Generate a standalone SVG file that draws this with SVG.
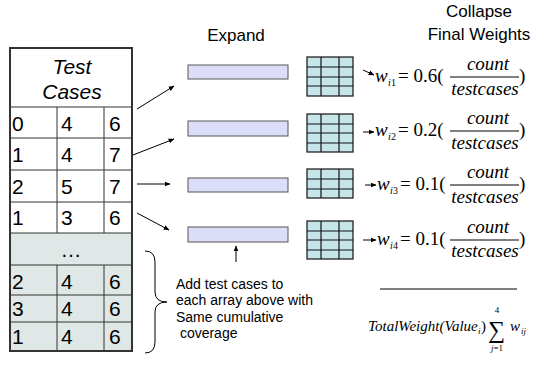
<svg xmlns="http://www.w3.org/2000/svg" width="533" height="366" viewBox="0 0 533 366">
  <style>
    .sans { font-family: "Liberation Sans", Arial, sans-serif; fill: #000; }
    .cell { font-size: 21px; }
    .head { font-size: 17px; }
    .note { font-size: 14px; }
    .math { font-family: "Liberation Serif", "Times New Roman", serif; fill: #000; }
    .it { font-style: italic; }
    .bar { fill: #dcdef9; stroke: #555; stroke-width: 1; }
    .grid rect { fill: #c6e5e8; stroke: #111; stroke-width: 1.2; }
    .grid line { stroke: #111; stroke-width: 1.2; }
    .tline { stroke: #333; stroke-width: 1; }
    .conn { stroke: #000; stroke-width: 1; fill: none; }
  </style>
  <defs>
    <marker id="ah" viewBox="0 0 10 10" refX="9" refY="5" markerWidth="6" markerHeight="6" orient="auto" markerUnits="userSpaceOnUse">
      <path d="M0,1 L10,5 L0,9 z" fill="#000"/>
    </marker>
  </defs>

  <rect width="533" height="366" fill="#fff"/>

  <!-- test case table -->
  <g id="test-cases">
    <rect x="10" y="233" width="122" height="118" fill="#dfe8e6"/>
    <rect x="10" y="48" width="122" height="303" fill="none" stroke="#333" stroke-width="2"/>
    <line class="tline" x1="10" y1="107" x2="132" y2="107"/>
    <line class="tline" x1="10" y1="138" x2="132" y2="138"/>
    <line class="tline" x1="10" y1="170" x2="132" y2="170"/>
    <line class="tline" x1="10" y1="202" x2="132" y2="202"/>
    <line class="tline" x1="10" y1="233" x2="132" y2="233"/>
    <line class="tline" x1="10" y1="265" x2="132" y2="265"/>
    <line class="tline" x1="10" y1="295" x2="132" y2="295"/>
    <line class="tline" x1="10" y1="322" x2="132" y2="322"/>
    <line class="tline" x1="57" y1="107" x2="57" y2="233"/>
    <line class="tline" x1="104" y1="107" x2="104" y2="233"/>
    <line class="tline" x1="57" y1="265" x2="57" y2="351"/>
    <line class="tline" x1="104" y1="265" x2="104" y2="351"/>
    <text class="sans cell" x="72" y="74" text-anchor="middle" font-style="italic">Test</text>
    <text class="sans cell" x="72" y="99" text-anchor="middle" font-style="italic">Cases</text>
    <g class="sans cell">
      <text x="12" y="131">0</text><text x="61" y="131">4</text><text x="109" y="131">6</text>
      <text x="12" y="162">1</text><text x="61" y="162">4</text><text x="109" y="162">7</text>
      <text x="12" y="194">2</text><text x="61" y="194">5</text><text x="109" y="194">7</text>
      <text x="12" y="225">1</text><text x="61" y="225">3</text><text x="109" y="225">6</text>
      <text x="71" y="257" text-anchor="middle">…</text>
      <text x="12" y="289">2</text><text x="61" y="289">4</text><text x="109" y="289">6</text>
      <text x="12" y="316">3</text><text x="61" y="316">4</text><text x="109" y="316">6</text>
      <text x="12" y="344">1</text><text x="61" y="344">4</text><text x="109" y="344">6</text>
    </g>
  </g>

  <!-- headers -->
  <g id="expand-header">
    <text class="sans head" x="236" y="41" text-anchor="middle">Expand</text>
  </g>
  <g id="collapse-header">
    <text class="sans head" x="479" y="17" text-anchor="middle">Collapse</text>
    <text class="sans head" x="479" y="40" text-anchor="middle" font-size="16">Final Weights</text>
  </g>

  <!-- expanded arrays -->
  <g id="array-1"><rect class="bar" x="188" y="65" width="100" height="14"/></g>
  <g id="array-2"><rect class="bar" x="188" y="121" width="100" height="15"/></g>
  <g id="array-3"><rect class="bar" x="188" y="178" width="100" height="14"/></g>
  <g id="array-4"><rect class="bar" x="188" y="227" width="100" height="15"/></g>

  <!-- collapsed grids -->
  <g id="grid-1" class="grid">
    <rect x="307" y="57" width="46" height="39"/>
    <line x1="321" y1="57" x2="321" y2="96"/><line x1="339" y1="57" x2="339" y2="96"/>
    <line x1="307" y1="67" x2="353" y2="67"/><line x1="307" y1="77" x2="353" y2="77"/><line x1="307" y1="86" x2="353" y2="86"/>
  </g>
  <g id="grid-2" class="grid">
    <rect x="307" y="114" width="46" height="38"/>
    <line x1="321" y1="114" x2="321" y2="152"/><line x1="339" y1="114" x2="339" y2="152"/>
    <line x1="307" y1="124" x2="353" y2="124"/><line x1="307" y1="133" x2="353" y2="133"/><line x1="307" y1="143" x2="353" y2="143"/>
  </g>
  <g id="grid-3" class="grid">
    <rect x="307" y="169" width="46" height="29"/>
    <line x1="321" y1="169" x2="321" y2="198"/><line x1="339" y1="169" x2="339" y2="198"/>
    <line x1="307" y1="179" x2="353" y2="179"/><line x1="307" y1="189" x2="353" y2="189"/>
  </g>
  <g id="grid-4" class="grid">
    <rect x="307" y="221" width="46" height="38"/>
    <line x1="321" y1="221" x2="321" y2="259"/><line x1="339" y1="221" x2="339" y2="259"/>
    <line x1="307" y1="231" x2="353" y2="231"/><line x1="307" y1="240" x2="353" y2="240"/><line x1="307" y1="250" x2="353" y2="250"/>
  </g>

  <!-- weight equations -->
  <g id="weight-1" class="math">
    <text x="375" y="82" font-size="19" class="it">w</text>
    <text x="388" y="86" font-size="10" class="it">i</text><text x="391" y="86" font-size="10">1</text>
    <text x="398" y="82" font-size="19">= 0.6(</text>
    <text x="488" y="70" font-size="19" class="it" text-anchor="middle">count</text>
    <line x1="450" y1="77" x2="519" y2="77" stroke="#000" stroke-width="1"/>
    <text x="485" y="95" font-size="19" class="it" text-anchor="middle">testcases</text>
    <text x="519" y="82" font-size="19">)</text>
  </g>
  <g id="weight-2" class="math">
    <text x="375" y="136" font-size="19" class="it">w</text>
    <text x="388" y="140" font-size="10" class="it">i</text><text x="391" y="140" font-size="10">2</text>
    <text x="398" y="136" font-size="19">= 0.2(</text>
    <text x="488" y="124" font-size="19" class="it" text-anchor="middle">count</text>
    <line x1="450" y1="131" x2="519" y2="131" stroke="#000" stroke-width="1"/>
    <text x="485" y="149" font-size="19" class="it" text-anchor="middle">testcases</text>
    <text x="519" y="136" font-size="19">)</text>
  </g>
  <g id="weight-3" class="math">
    <text x="377" y="190" font-size="19" class="it">w</text>
    <text x="390" y="194" font-size="10" class="it">i</text><text x="393" y="194" font-size="10">3</text>
    <text x="400" y="190" font-size="19">= 0.1(</text>
    <text x="488" y="178" font-size="19" class="it" text-anchor="middle">count</text>
    <line x1="450" y1="185" x2="519" y2="185" stroke="#000" stroke-width="1"/>
    <text x="485" y="203" font-size="19" class="it" text-anchor="middle">testcases</text>
    <text x="519" y="190" font-size="19">)</text>
  </g>
  <g id="weight-4" class="math">
    <text x="377" y="245" font-size="19" class="it">w</text>
    <text x="390" y="249" font-size="10" class="it">i</text><text x="393" y="249" font-size="10">4</text>
    <text x="400" y="245" font-size="19">= 0.1(</text>
    <text x="488" y="233" font-size="19" class="it" text-anchor="middle">count</text>
    <line x1="450" y1="240" x2="519" y2="240" stroke="#000" stroke-width="1"/>
    <text x="485" y="257" font-size="19" class="it" text-anchor="middle">testcases</text>
    <text x="519" y="245" font-size="19">)</text>
  </g>

  <!-- total weight -->
  <g id="total-weight" class="math">
    <line x1="380" y1="289" x2="517" y2="289" stroke="#000" stroke-width="1"/>
    <text x="368" y="331" font-size="15" class="it">TotalWeight(Value</text>
    <text x="478" y="334" font-size="9" class="it">i</text>
    <text x="481" y="331" font-size="15">)</text>
    <text x="488" y="338" font-size="24">∑</text>
    <text x="497" y="313" font-size="9" text-anchor="middle">4</text>
    <text x="497" y="351" font-size="9" text-anchor="middle" class="it">j<tspan font-style="normal">=1</tspan></text>
    <text x="510" y="331" font-size="15" class="it">w</text>
    <text x="521" y="334" font-size="9" class="it">ij</text>
  </g>

  <!-- note -->
  <g id="note">
    <text class="sans note" x="176" y="289">Add test cases to</text>
    <text class="sans note" x="176" y="305">each array above with</text>
    <text class="sans note" x="176" y="322">Same cumulative</text>
    <text class="sans note" x="176" y="338" xml:space="preserve"> coverage</text>
  </g>

  <!-- connectors -->
  <g id="connectors">
    <line class="conn" x1="137" y1="109" x2="174" y2="86" marker-end="url(#ah)"/>
    <line class="conn" x1="133" y1="155" x2="174" y2="139" marker-end="url(#ah)"/>
    <line class="conn" x1="137" y1="184" x2="170" y2="184" marker-end="url(#ah)"/>
    <line class="conn" x1="137" y1="213" x2="169" y2="230" marker-end="url(#ah)"/>
    <line class="conn" x1="236" y1="262" x2="236" y2="246" marker-end="url(#ah)"/>
    <line class="conn" x1="363" y1="70" x2="374" y2="75" marker-end="url(#ah)"/>
    <line class="conn" x1="363" y1="132" x2="374" y2="132" marker-end="url(#ah)"/>
    <line class="conn" x1="365" y1="185" x2="376" y2="185" marker-end="url(#ah)"/>
    <line class="conn" x1="363" y1="240" x2="376" y2="240" marker-end="url(#ah)"/>
    <path class="conn" d="M145,251 Q155,251 155,262 L155,292 Q155,302 167,302 Q155,302 155,312 L155,342 Q155,353 145,353"/>
  </g>
</svg>
